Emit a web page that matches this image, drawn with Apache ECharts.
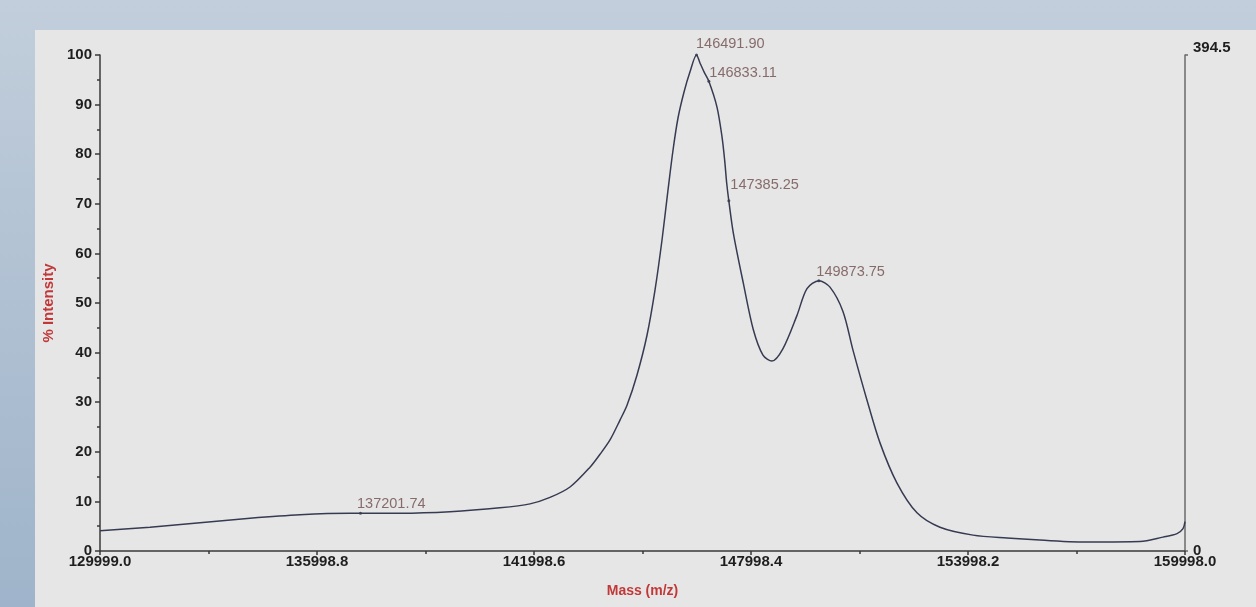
<!DOCTYPE html>
<html>
<head>
<meta charset="utf-8">
<script src="https://cdn.jsdelivr.net/npm/echarts@6/dist/echarts.min.js"></script>
<style>
  html, body { margin: 0; padding: 0; width: 1256px; height: 607px; overflow: hidden; }
  body { background: linear-gradient(to bottom, #c2cedb 0%, #b3c3d4 40%, #9fb4ca 100%); position: relative; }
  #panel { position: absolute; left: 35px; top: 30px; right: 0; bottom: 0; background: #e6e6e6; }
  #chart { position: absolute; left: 0; top: 0; width: 1256px; height: 607px; }
</style>
</head>
<body>
<div id="panel"></div>
<div id="chart"></div>
<script>
// ---- data ----
const massValues = [129999.0, 131381, 132764, 134146, 135529, 136911, 137201.74, 138293, 139676, 141058,
  141888, 142441, 142994, 143547, 143823, 144100, 144376, 144570, 144847, 145123,
  145344, 145538, 145704, 145842, 145980, 146145, 146312, 146491.90, 146588, 146700,
  146833.11, 147058, 147197, 147270, 147326, 147385.25, 147510, 147786, 148063, 148329,
  148578, 148883, 149270, 149546, 149873.75, 150182, 150541, 150818, 151206, 151565,
  152035, 152588, 153223, 154137, 155076, 155988, 157371, 158753, 159389, 159777,
  159943, 159998.0];
const intensityValues = [4.1, 4.8, 5.7, 6.6, 7.3, 7.6, 7.6, 7.6, 7.9, 8.7,
  9.5, 10.8, 12.9, 16.9, 19.5, 22.4, 26.4, 29.4, 35.5, 43.5,
  52.6, 62.7, 72.8, 80.8, 87.3, 92.5, 96.6, 100, 98.4, 96.6,
  94.7, 89.5, 83.5, 78.8, 74.2, 70.6, 64.1, 54.0, 44.6, 39.5,
  38.3, 40.8, 47.5, 52.9, 54.5, 53.2, 48.3, 40.5, 30.4, 21.8,
  13.7, 7.7, 4.8, 3.2, 2.6, 2.2, 1.8, 1.9, 2.8, 3.5,
  4.5, 5.9];
const peakMasses = [146491.90, 146833.11, 147385.25, 149873.75, 137201.74];
const peakIntensities = [100, 94.7, 70.6, 54.5, 7.6];
const xTickLabels = [129999.0, 135998.8, 141998.6, 147998.4, 153998.2, 159998.0];
const yTickLabels = [0, 10, 20, 30, 40, 50, 60, 70, 80, 90, 100];
const rightAxisLabels = [0, 394.5];
const xAxisTitle = 'Mass (m/z)';
const yAxisTitle = '% Intensity';

// ---- styling (not data) ----
const labelOffsets = [[-2, -11], [-1, -8], [0, -16], [-4, -9], [-5, -9]];
const FONT = '"Liberation Sans", Arial, sans-serif';
const tickFont = { fontFamily: FONT, fontWeight: 'bold', fontSize: 15, color: '#1e1e1e' };

const lineData = massValues.map((m, i) => [m, intensityValues[i]]);
const xMinor = xTickLabels.slice(0, -1).map((v, i) => (v + xTickLabels[i + 1]) / 2);

const peakData = peakMasses.map((m, i) => ({
  value: [m, peakIntensities[i]],
  label: { offset: labelOffsets[i] }
}));

const chart = echarts.init(document.getElementById('chart'), null, { renderer: 'canvas' });
chart.setOption({
  backgroundColor: 'transparent',
  animation: false,
  grid: { left: 100, right: 71, top: 55, bottom: 56 },
  xAxis: [{
    type: 'value', min: xTickLabels[0], max: xTickLabels[xTickLabels.length - 1],
    name: xAxisTitle, nameLocation: 'middle', nameGap: 33,
    nameTextStyle: { fontFamily: FONT, fontWeight: 'bold', fontSize: 14, color: '#c23838' },
    axisLine: { show: true, onZero: false, lineStyle: { color: '#3a3a3a', width: 1.5 } },
    axisTick: { show: true, customValues: xTickLabels, length: 4, lineStyle: { color: '#3a3a3a', width: 1.5 } },
    axisLabel: Object.assign({ customValues: xTickLabels, margin: 3, formatter: v => v.toFixed(1) }, tickFont),
    splitLine: { show: false }
  }, {
    type: 'value', min: xTickLabels[0], max: xTickLabels[xTickLabels.length - 1],
    position: 'bottom',
    axisLine: { show: false },
    axisTick: { show: true, customValues: xMinor, length: 3, lineStyle: { color: '#3a3a3a', width: 1.5 } },
    axisLabel: { show: false },
    splitLine: { show: false }
  }],
  yAxis: [{
    type: 'value', min: 0, max: 100, interval: 10,
    name: yAxisTitle, nameLocation: 'middle', nameGap: 44, nameRotate: 90,
    nameTextStyle: { fontFamily: FONT, fontWeight: 'bold', fontSize: 15, color: '#c23838' },
    axisLine: { show: true, lineStyle: { color: '#3a3a3a', width: 1.5 } },
    axisTick: { show: true, length: 5, lineStyle: { color: '#3a3a3a', width: 1.5 } },
    minorTick: { show: true, splitNumber: 2, length: 3, lineStyle: { color: '#3a3a3a', width: 1.5 } },
    axisLabel: Object.assign({ margin: 8, customValues: yTickLabels }, tickFont),
    splitLine: { show: false }
  }, {
    type: 'value', min: 0, max: rightAxisLabels[1], position: 'right',
    axisLine: { show: true, lineStyle: { color: '#6a6a6a', width: 1.5 } },
    axisTick: { show: true, customValues: rightAxisLabels, length: 3, lineStyle: { color: '#6a6a6a', width: 1.5 } },
    axisLabel: Object.assign({
      customValues: rightAxisLabels, margin: 8,
      formatter: v => v === 0 ? '{z|0}' : '{t|' + v.toFixed(1) + '}',
      rich: {
        z: { fontFamily: FONT, fontWeight: 'bold', fontSize: 15, color: '#1e1e1e' },
        t: { fontFamily: FONT, fontWeight: 'bold', fontSize: 15, color: '#1e1e1e', padding: [0, 0, 14, 0] }
      }
    }, tickFont),
    splitLine: { show: false }
  }],
  series: [{
    type: 'line',
    data: lineData,
    xAxisIndex: 0, yAxisIndex: 0,
    showSymbol: false,
    smooth: 0.3,
    lineStyle: { color: '#363b52', width: 1.5 },
    silent: true
  }, {
    type: 'scatter',
    data: peakData,
    xAxisIndex: 0, yAxisIndex: 0,
    symbol: 'circle', symbolSize: 3,
    itemStyle: { color: '#2c3045' },
    label: {
      show: true, position: 'right', distance: 0,
      formatter: p => p.value[0].toFixed(2),
      fontFamily: FONT, fontSize: 14.5, color: '#6e4c4c'
    },
    silent: true
  }]
});
</script>
</body>
</html>
